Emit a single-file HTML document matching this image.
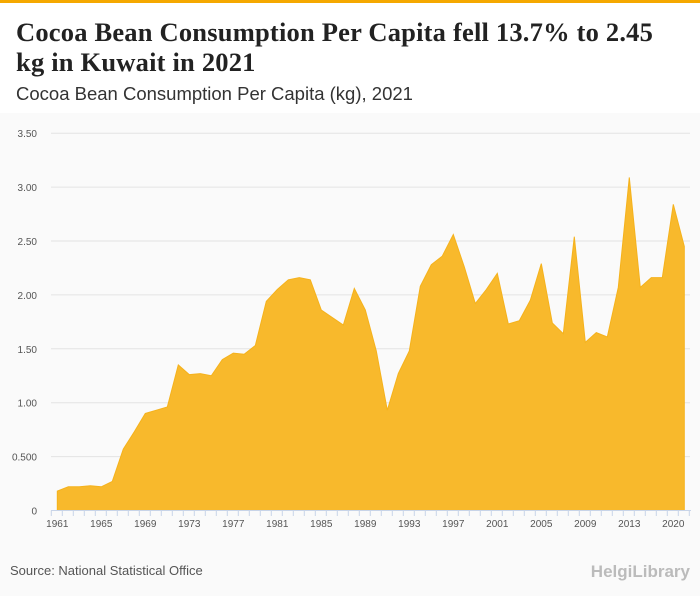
<!DOCTYPE html>
<html><head><meta charset="utf-8"><style>
body{margin:0;width:700px;height:596px;overflow:hidden;background:#fafafa;font-family:"Liberation Sans",sans-serif}
#hdr{position:absolute;left:0;top:0;width:700px;height:113px;background:#fff;border-top:3px solid #f5a800;box-sizing:border-box}
#t{position:absolute;left:16px;top:14px;font:bold 26.5px/30px "Liberation Serif",serif;letter-spacing:0.2px;color:#222;width:668px}
#s{position:absolute;left:16px;top:80px;font:18.5px "Liberation Sans",sans-serif;color:#333}
#src{position:absolute;left:10px;top:563px;font:13px "Liberation Sans",sans-serif;color:#555}
#logo{position:absolute;right:10px;top:562px;font:bold 17px "Liberation Sans",sans-serif;color:#bbb}
</style></head><body>
<div id="hdr">
<div id="t">Cocoa Bean Consumption Per Capita fell 13.7% to 2.45 kg in Kuwait in 2021</div>
<div id="s">Cocoa Bean Consumption Per Capita (kg), 2021</div>
</div>
<svg id="c" width="700" height="596" style="position:absolute;left:0;top:0"></svg>
<div id="src">Source: National Statistical Office</div>
<div id="logo">HelgiLibrary</div>
<script>
const categories=[1961,1962,1963,1964,1965,1966,1967,1968,1969,1970,1971,1972,1973,1974,1975,1976,1977,1978,1979,1980,1981,1982,1983,1984,1985,1986,1987,1988,1989,1990,1991,1992,1993,1994,1995,1996,1997,1998,1999,2000,2001,2002,2003,2004,2005,2006,2007,2008,2009,2010,2011,2012,2013,2015,2017,2019,2020,2021];
const values=[0.18,0.22,0.22,0.23,0.22,0.27,0.57,0.73,0.90,0.93,0.96,1.35,1.26,1.27,1.25,1.40,1.46,1.45,1.53,1.94,2.05,2.14,2.16,2.14,1.86,1.79,1.72,2.06,1.86,1.48,0.93,1.27,1.48,2.08,2.28,2.36,2.56,2.26,1.92,2.05,2.20,1.73,1.76,1.95,2.29,1.74,1.64,2.54,1.56,1.65,1.61,2.07,3.09,2.07,2.16,2.16,2.84,2.45];
const yTicks=[0,0.5,1,1.5,2,2.5,3,3.5];
const yTickLabels=["0","0.500","1.00","1.50","2.00","2.50","3.00","3.50"];
const NS="http://www.w3.org/2000/svg",svg=document.getElementById('c');
const x=i=>57.3+i*11, y=v=>510.5-v*107.8;
function mk(t,a){const e=document.createElementNS(NS,t);for(const k in a)e.setAttribute(k,a[k]);svg.appendChild(e);return e;}
yTicks.forEach((v,i)=>{
 const g=mk('line',{x1:51,x2:690,y1:y(v),y2:y(v),stroke:'#e3e3e3','stroke-width':1});
 
 
 const t=mk('text',{x:37,y:y(v)+4,'text-anchor':'end','font-size':10,fill:'#555','font-family':'Liberation Sans'});
 t.textContent=yTickLabels[i];
 
 
});
let d='M'+x(0)+','+y(0);
values.forEach((v,i)=>d+=' L'+x(i)+','+y(v));
d+=' L'+x(values.length-1)+','+y(0)+' Z';
const area=mk('path',{d:d,fill:'#f8b92c',stroke:'#f5b21c','stroke-width':1});


const ax=mk('line',{x1:51,x2:691,y1:510.5,y2:510.5,stroke:'#c8d4e8'});


for(let i=0;i<=categories.length;i++){
 const tk=mk('line',{x1:51.3+i*11,x2:51.3+i*11,y1:510.5,y2:516,stroke:'#c8d4e8'});
 
 
}
categories.forEach((c,i)=>{
 if(i%4)return;
 const t=mk('text',{x:x(i),y:527,'text-anchor':'middle','font-size':10,fill:'#555','font-family':'Liberation Sans'});
 t.textContent=c;
 
 
});
</script>
</body></html>
